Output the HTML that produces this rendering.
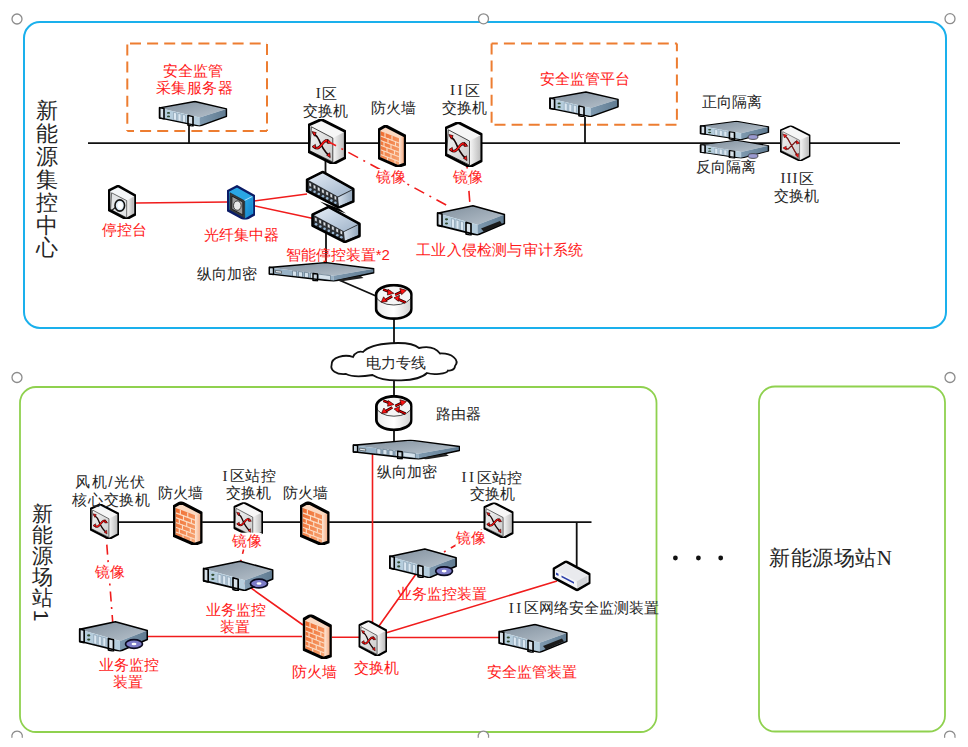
<!DOCTYPE html>
<html><head><meta charset="utf-8">
<style>
html,body{margin:0;padding:0;background:#fff;width:968px;height:747px;overflow:hidden}
svg{display:block}
text{font-family:"Liberation Sans",sans-serif;font-size:15px}
.d{fill:#262626}
.r{fill:#ff1a1a}
.sv{font-family:"Liberation Serif",serif}
</style></head><body>
<svg width="968" height="747" viewBox="0 0 968 747">
<defs>
<linearGradient id="gSwF" x1="0" y1="0" x2="1" y2="1"><stop offset="0" stop-color="#f4f4f4"/><stop offset="1" stop-color="#c9c9c9"/></linearGradient>
<linearGradient id="gSwS" x1="0" y1="0" x2="1" y2="0"><stop offset="0" stop-color="#f8f8f8"/><stop offset="1" stop-color="#b5b5b5"/></linearGradient>
<linearGradient id="gFwF" x1="0" y1="0" x2="1" y2="1"><stop offset="0" stop-color="#ef6a2c"/><stop offset="1" stop-color="#f7a878"/></linearGradient>
<linearGradient id="gFwS" x1="0" y1="0" x2="1" y2="0"><stop offset="0" stop-color="#fde6d6"/><stop offset="1" stop-color="#f39a6a"/></linearGradient>
<linearGradient id="gSrvT" x1="0" y1="0" x2="1" y2="1"><stop offset="0" stop-color="#7f8e9c"/><stop offset="1" stop-color="#b7c2cc"/></linearGradient>
<linearGradient id="gSrvS" x1="0" y1="0" x2="1" y2="0"><stop offset="0" stop-color="#7f9ab0"/><stop offset="1" stop-color="#5f7a90"/></linearGradient>
<linearGradient id="gHubT" x1="0" y1="0" x2="1" y2="1"><stop offset="0" stop-color="#e4ecf6"/><stop offset="1" stop-color="#9fb3c9"/></linearGradient>
<linearGradient id="gHubS" x1="0" y1="0" x2="1" y2="0"><stop offset="0" stop-color="#d5e0ec"/><stop offset="1" stop-color="#94a8bd"/></linearGradient>
<linearGradient id="gRt" x1="0" y1="0" x2="1" y2="0"><stop offset="0" stop-color="#e9e9e9"/><stop offset="0.5" stop-color="#ffffff"/><stop offset="1" stop-color="#d0d0d0"/></linearGradient>
<linearGradient id="gBlue" x1="0" y1="0" x2="1" y2="1"><stop offset="0" stop-color="#2aa9e6"/><stop offset="1" stop-color="#1480c8"/></linearGradient>

<symbol id="sw" viewBox="0 0 38 45" preserveAspectRatio="none">
 <polygon points="0.8,6 13.4,0.4 37.3,12.6 37.3,38.7 25.1,45 0.8,32.8" fill="#f6f6f6"/>
 <polygon points="24.8,19 37.3,12.6 37.3,38.7 25.1,45 24.8,43" fill="url(#gSwS)"/>
 <polygon points="3.4,7.8 24.8,19 24.8,43 1.6,31.6" fill="url(#gSwF)" stroke="#333" stroke-width="0.9"/>
 <g fill="none" stroke-linecap="round" stroke-linejoin="round">
  <path d="M5.5,14.5 C8,16.5 9.5,17 11,21 C13,26 16,32 20.5,36" stroke="#1a0505" stroke-width="1.7"/>
  <path d="M6,28 C8,29.5 9.5,30 11.5,28 C14,25.5 16,22 18,21.5 L21,23" stroke="#2a0000" stroke-width="2.6"/>
  <path d="M6,28 C8,29.5 9.5,30 11.5,28 C14,25.5 16,22 18,21.5 L21,23" stroke="#ff1414" stroke-width="1.5"/>
 </g>
 <g fill="#ff1414" stroke="#2a0000" stroke-width="0.7" stroke-linejoin="round">
  <polygon points="4,12.6 8.2,13.6 6.4,17.2"/>
  <polygon points="22.2,38.6 18.6,36.2 21.8,33.8"/>
  <polygon points="4,27.6 7.4,25.4 7.8,30"/>
  <polygon points="23,24.2 19.6,20 19.4,24.4"/>
 </g>
 <polygon points="0.8,6 13.4,0.4 37.3,12.6 37.3,38.7 25.1,45 0.8,32.8" fill="none" stroke="#000" stroke-width="2.8" stroke-linejoin="round"/>
</symbol>

<symbol id="fw" viewBox="0 0 28 42" preserveAspectRatio="none">
 <polygon points="0.3,4.6 7.6,0.2 27.8,11 27.8,39.3 20.2,42 0.3,33.2" fill="#fbd9c2"/>
 <polygon points="2.6,6.2 21,13.2 21,41 2.6,32.6" fill="url(#gFwF)"/>
 <polygon points="21,13.2 27.6,10.8 27.6,39.2 21,41" fill="url(#gFwS)"/>
 <g stroke="#fbdcc4" stroke-width="1.1" fill="none">
  <path d="M2.6,11 L21,18 M2.6,15.6 L21,22.6 M2.6,20.2 L21,27.2 M2.6,24.8 L21,31.8 M2.6,29.4 L21,36.4"/>
  <path d="M7,8 V12.7 M14,10.7 V15.4 M10,13.1 V17.8 M17.5,16.2 V20.9 M6,17 V21.5 M13,19.7 V24.2 M9,22.5 V27 M16.5,25.3 V29.8 M6,26 V30.6 M13,28.8 V33.4 M9.5,32 V36.5 M17,34.8 V39.4"/>
 </g>
 <polygon points="0.8,4.8 7.6,0.8 27.3,11.2 27.3,39 20.2,41.5 0.8,33" fill="none" stroke="#000" stroke-width="3" stroke-linejoin="round"/>
</symbol>

<symbol id="srv" viewBox="0 0 69 31" preserveAspectRatio="none">
 <polygon points="1,8.8 36.4,1.2 68,10 41,20.3" fill="url(#gSrvT)"/>
 <polygon points="1,8.8 41,20.3 41,30.6 1,20.6" fill="#b5cddd"/>
 <polygon points="41,20.3 68,10 68,18.9 41,30.6" fill="url(#gSrvS)"/>
 <g fill="#dbe8f2" stroke="#7d93a6" stroke-width="0.6">
  <polygon points="15,14 18,14.9 18,23.9 15,23"/>
  <polygon points="19.5,15.3 22.5,16.2 22.5,25.2 19.5,24.3"/>
  <polygon points="24,16.6 27,17.5 27,26.5 24,25.6"/>
 </g>
 <g fill="#2f4a2f"><ellipse cx="10" cy="14.8" rx="1.6" ry="1.1"/><ellipse cx="10" cy="19" rx="1.6" ry="1.1"/></g>
 <path d="M1,8.4 L5.5,9.6 L5.5,22 L1,21 Z M29.5,17.8 L34.5,19.2 L34.5,31 L29.5,29.5 Z" fill="#d8e2ea" stroke="#000" stroke-width="1.6" stroke-linejoin="round"/>
 <polygon points="1,8.8 36.4,1.2 68,10 68,18.9 41,30.6 1,20.6" fill="none" stroke="#000" stroke-width="1.6" stroke-linejoin="round"/>
</symbol>

<symbol id="wsrv" viewBox="0 0 106 19" preserveAspectRatio="none">
 <polygon points="0.5,5.4 57.3,0.6 105.5,6.6 64.8,13.5" fill="url(#gSrvT)"/>
 <polygon points="0.5,5.4 64.8,13.5 65.2,18.8 0.5,11.6" fill="#98b2c6"/>
 <polygon points="64.8,13.5 105.5,6.6 105.5,10.4 65.2,18.8" fill="url(#gSrvS)"/>
 <g fill="#d5e2ec" stroke="#3f5466" stroke-width="0.5">
  <polygon points="24,8.6 28,9.1 28,14.1 24,13.6"/><polygon points="30,9.3 34,9.8 34,14.8 30,14.3"/><polygon points="36,10 40,10.5 40,15.5 36,15"/><polygon points="42,10.7 46,11.2 46,16.2 42,15.7"/>
  <polygon points="50,11.8 62,13.3 62,17.8 50,16.3"/>
 </g>
 <path d="M0.8,5.2 L5,5.7 L5,12.2 L0.8,11.8 Z M44.5,11.2 L49,11.7 L49,18.5 L44.5,18 Z" fill="#c9d6e0" stroke="#000" stroke-width="1.4" stroke-linejoin="round"/>
 <path d="M7,8.2 L13,9 L13,11 L7,10.2Z" fill="#e8eef2" stroke="#222" stroke-width="0.5"/>
 <polygon points="0.5,5.4 57.3,0.6 105.5,6.6 105.5,10.4 65.2,18.8 0.5,11.6" fill="none" stroke="#000" stroke-width="1.4" stroke-linejoin="round"/>
 <path d="M68,17.5 L92,13.5 L95,15.5 L72,19Z" fill="#222"/>
</symbol>

<symbol id="hub" viewBox="0 0 49 38" preserveAspectRatio="none">
 <polygon points="0.5,8.8 17.2,0.5 48.8,18.3 48.8,31.1 33.3,37.7 0.5,20.5" fill="#2a2e33"/>
 <polygon points="2.6,9.4 17.2,2.2 46.6,18.6 32.2,26" fill="url(#gHubT)"/>
 <polygon points="32.4,26.8 46.6,19.6 46.6,30 33.4,35.6" fill="url(#gHubS)"/>
 <g fill="#d9dee4" stroke="#111" stroke-width="0.5">
  <polygon points="3.4,11.6 5.8,12.8 5.8,16.6 3.4,15.4"/><polygon points="7.6,13.8 10.2,15.1 10.2,18.9 7.6,17.6"/><polygon points="11.8,16 14.4,17.3 14.4,21.1 11.8,19.8"/><polygon points="16,18.2 18.6,19.5 18.6,23.3 16,22"/><polygon points="20.2,20.4 22.8,21.7 22.8,25.5 20.2,24.2"/><polygon points="24.4,22.6 27,23.9 27,27.7 24.4,26.4"/><polygon points="28.6,24.8 31,26 31,29.8 28.6,28.6"/>
 </g>
 <g fill="#9ab8d4">
  <circle cx="4.8" cy="19" r="1.3"/><circle cx="9" cy="21.2" r="1.3"/><circle cx="13.2" cy="23.4" r="1.3"/><circle cx="17.4" cy="25.6" r="1.3"/><circle cx="21.6" cy="27.8" r="1.3"/><circle cx="25.8" cy="30" r="1.3"/><circle cx="29.8" cy="32.1" r="1.3"/>
 </g>
 <polygon points="1.2,9.2 17.2,1.3 48,18.6 48,30.8 33.3,37 1.2,20.2" fill="none" stroke="#000" stroke-width="2.6" stroke-linejoin="round"/>
</symbol>

<symbol id="con" viewBox="0 0 28 34" preserveAspectRatio="none">
 <polygon points="1,5.3 10.1,0.9 27.5,10.6 27.5,29.2 18.4,34.2 1,25" fill="#f4f6f8"/>
 <polygon points="18.7,15.6 25.8,11.5 25.8,29.8 18.7,32.7" fill="url(#gSwS)"/>
 <polygon points="3.6,7.8 18.7,15.6 18.7,32.7 2.6,24.5" fill="#e2e4e6" stroke="#333" stroke-width="0.7"/>
 <path d="M3,26 L8,22" stroke="#222" stroke-width="1.2"/>
 <ellipse cx="11.8" cy="20.5" rx="4.8" ry="5.6" fill="#dbe9f6" stroke="#111" stroke-width="1.6"/>
 <ellipse cx="12.2" cy="20.5" rx="2.6" ry="3.4" fill="#ffffff"/>
 <polygon points="1,5.3 10.1,0.9 27.5,10.6 27.5,29.2 18.4,34.2 1,25" fill="none" stroke="#000" stroke-width="2.6" stroke-linejoin="round"/>
</symbol>

<symbol id="fib" viewBox="0 0 28 34" preserveAspectRatio="none">
 <polygon points="0.9,5.9 10,1.2 27.4,10.9 27.4,28.9 18,34.2 0.9,25" fill="#2aa6e4"/>
 <polygon points="17.7,15.6 25.6,11.5 25.6,29.5 17.7,32.7" fill="url(#gBlue)"/>
 <polygon points="3,7.7 17.7,15.6 17.7,32.7 2.8,25" fill="#3a3a3a" stroke="#222" stroke-width="0.6"/>
 <polygon points="5,11 15.8,16.8 15.8,29.5 4.8,23.6" fill="#9a9a9a" stroke="#111" stroke-width="0.8"/>
 <ellipse cx="10.3" cy="20.3" rx="3.8" ry="4.6" fill="#e9e9e9" stroke="#222" stroke-width="0.8"/>
 <path d="M17.5,15.2 L25.4,11.3" stroke="#bde8ff" stroke-width="0.9"/>
 <polygon points="0.9,5.9 10,1.2 27.4,10.9 27.4,28.9 18,34.2 0.9,25" fill="none" stroke="#0b1b66" stroke-width="2.4" stroke-linejoin="round"/>
</symbol>

<symbol id="dev" viewBox="0 0 38 32" preserveAspectRatio="none">
 <polygon points="1.1,8.5 13.4,1 37.4,14.4 37.4,23 24.6,30.5 1.1,17.6" fill="#f0f0f2"/>
 <polygon points="3,10.2 13.6,3.6 35,15.4 24,21.6" fill="#e9eaee"/>
 <polygon points="24,21.6 35,15.4 35,23 24.6,28.5" fill="#d2d4d8"/>
 <polygon points="3,10.2 24,21.6 24.6,28.5 2.6,16.6" fill="#f4f5f8"/>
 <polygon points="3.5,12.5 6,13.8 6,16 3.5,14.8" fill="#2b3ea8"/>
 <polygon points="9,15.5 21.5,22.3 21.5,24 9,17.2" fill="#2b3ea8"/>
 <polygon points="1.1,8.5 13.4,1 37.4,14.4 37.4,23 24.6,30.5 1.1,17.6" fill="none" stroke="#000" stroke-width="2.6" stroke-linejoin="round"/>
</symbol>

<symbol id="rt" viewBox="0 0 38 37" preserveAspectRatio="none">
 <path d="M1.2,11.3 A18,10.2 0 0 1 37.2,11.3 V25.4 A18,10.2 0 0 1 1.2,25.4 Z" fill="url(#gRt)"/>
 <ellipse cx="19.2" cy="11.3" rx="18" ry="10.2" fill="#f5f5f5" stroke="#333" stroke-width="0.9"/>
 <g stroke-linejoin="round">
  <path d="M8.5,5.8 L16,8.6 M31,19 L22,15 M20.5,11.2 L28,7.6 M17.5,12.6 L10,17" stroke="#2a0000" stroke-width="2.8"/>
  <path d="M8.5,5.8 L16,8.6 M31,19 L22,15 M20.5,11.2 L28,7.6 M17.5,12.6 L10,17" stroke="#ee0000" stroke-width="1.2"/>
  <g fill="#ff1010" stroke="#3a0000" stroke-width="0.7">
   <polygon points="19.2,9.6 13.4,5.6 12.8,11.4"/>
   <polygon points="19.4,14.2 25,11.6 23.8,17.8"/>
   <polygon points="31.8,6.6 25.2,4.8 27,11"/>
   <polygon points="6.6,18.6 9,13.2 12.6,18"/>
  </g>
 </g>
 <path d="M1.4,11.3 A17.8,10 0 0 1 37,11.3 V25.4 A17.8,10 0 0 1 1.4,25.4 Z" fill="none" stroke="#000" stroke-width="2.8"/>
</symbol>
<symbol id="sw2" viewBox="0 0 38 45" preserveAspectRatio="none">
 <polygon points="0.8,6 13.4,0.4 37.3,12.6 37.3,38.7 25.1,45 0.8,32.8" fill="#f6f6f6"/>
 <polygon points="24.4,18.8 37.3,12.6 37.3,38.7 25.1,45 24.4,43" fill="url(#gSwS)"/>
 <polygon points="3.4,7.8 24.4,18.8 24.4,43 1.6,31.6" fill="url(#gSwF)" stroke="#444" stroke-width="0.8"/>
 <g fill="none" stroke-linecap="round" stroke-linejoin="round">
  <path d="M6.5,13.5 L9.5,16.5 L19.5,34.5 L21.5,37.5 M6,29 L10,30 L19.5,20.5 L22.5,22" stroke="#5a1010" stroke-width="1.6"/>
  <path d="M6.5,13.5 L9.5,16.5 L19.5,34.5 L21.5,37.5 M6,29 L10,30 L19.5,20.5 L22.5,22" stroke="#a02020" stroke-width="0.8"/>
 </g>
 <g fill="#ff1010" stroke="#3a0000" stroke-width="0.6" stroke-linejoin="round">
  <polygon points="3.8,10.8 8.8,12.3 5.6,15.8"/>
  <polygon points="22.8,40.8 18.9,37 23.2,35.4"/>
  <polygon points="3.6,28.4 7.8,26.2 7.9,31.2"/>
  <polygon points="24.6,22.5 20.6,18.6 20.4,23.6"/>
 </g>
 <polygon points="0.8,6 13.4,0.4 37.3,12.6 37.3,38.7 25.1,45 0.8,32.8" fill="none" stroke="#000" stroke-width="2.2" stroke-linejoin="round"/>
</symbol>
</defs>
<!-- boxes -->
<rect x="24" y="22" width="922" height="306" rx="16" fill="none" stroke="#1ab0ec" stroke-width="2"/>
<rect x="20" y="387" width="636.5" height="345" rx="16" fill="none" stroke="#8fd14f" stroke-width="1.8"/>
<rect x="759" y="386.5" width="186" height="345" rx="16" fill="none" stroke="#8fd14f" stroke-width="1.8"/>
<g fill="none" stroke="#ed7d31" stroke-width="2" stroke-dasharray="11 6.1">
<path d="M127.3 43.6H267" stroke-dashoffset="14.4"/><path d="M127.3 43.6V131" stroke-dashoffset="16.3"/><path d="M267 43.6V131" stroke-dashoffset="16.6"/><path d="M127.3 131H267" stroke-dashoffset="4.3"/>
<path d="M491.6 43.6H676.9" stroke-dashoffset="4.8"/><path d="M491.6 43.6V124.7" stroke-dashoffset="0.2"/><path d="M676.9 43.6V124.7" stroke-dashoffset="3.3"/><path d="M491.6 124.7H676.9" stroke-dashoffset="14.2"/>
</g>

<!-- handles -->
<g fill="none" stroke="#8c8c8c" stroke-width="1.3">
<circle cx="17" cy="19" r="5"/><circle cx="483.5" cy="18.8" r="5" fill="#fff"/><circle cx="950" cy="18.7" r="5"/>
<circle cx="17" cy="377.5" r="5"/><circle cx="950" cy="377.5" r="5"/>
<path d="M12 737.8 A5.3 5.3 0 1 1 22.2 737.8"/><path d="M478.3 737.8 A5.3 5.3 0 1 1 488.5 737.8 Z" fill="#fff" stroke="none"/><path d="M478.3 737.8 A5.3 5.3 0 1 1 488.5 737.8"/><path d="M944.7 737.8 A5.3 5.3 0 1 1 954.9 737.8"/>
</g>
<!-- black lines -->
<g stroke="#111" stroke-width="1.8" fill="none">
<path d="M88 143.2H900"/>
<path d="M189 125V143.2M585 117V143.2"/>
<path d="M325.5 160V175M326 230V265M339 280L376 296M394 315V345M394 378V398M394 429V441"/>
<path d="M104 522.1H591.5M576.7 522.1V566"/>
</g>
<!-- red lines -->
<g stroke="#f01c1c" stroke-width="1.6" fill="none">
<path d="M136 203L227 202M253.5 201L307 194M253.5 205.6L312 218.3"/>
<path d="M372.5 453V625M148 636.5H302M332 637.3H360M386 637.5H500M384 633.5L557 581M379 626L416 574M239.7 580L303 625"/>
</g>
<g stroke="#f01c1c" stroke-width="1.6" fill="none" stroke-dasharray="11 6 2 6">
<path d="M467 166L470 205M482 530L444 552"/>
<path d="M106 534L112.7 622" stroke-dasharray="10 5.5 2 6" stroke-dashoffset="12.8"/>
<path d="M243.6 549.5L240.4 563" stroke-dashoffset="6.5"/>
</g>
<!-- cloud -->
<path d="M331.6,365 C331,357 345,354 353,357 C355,352 360,351 363,352 C372,342 410,340 419,348 C428,346 436,348 440,353.5 C452,353 460,360 455,366 C455,370 450,371 448,370.5 C447,374 433,375 427,373 C418,382 385,383 372.5,375 C360,377 350,376 346,374 C336,375 330,370 331.6,365 Z" fill="#fff" stroke="#111" stroke-width="1.8"/>
<!-- icons upper -->
<use href="#srv" x="158.5" y="100.5" width="69" height="26"/>
<use href="#sw" x="308" y="119" width="38" height="45"/>
<use href="#fw" x="378" y="125" width="28" height="42"/>
<use href="#sw" x="445" y="122" width="37.5" height="45"/>
<use href="#srv" x="549" y="91" width="70" height="26"/>
<use href="#srv" x="699.5" y="120.5" width="70" height="19.5"/>
<use href="#srv" x="699.5" y="139.5" width="70" height="19"/>
<use href="#sw2" x="780" y="125.5" width="30.5" height="35.5"/>
<use href="#con" x="108" y="185" width="28" height="34"/>
<use href="#fib" x="227" y="185" width="28" height="34.5"/>
<use href="#hub" x="305.6" y="170.6" width="49" height="38"/>
<use href="#hub" x="311.2" y="205.6" width="49.5" height="37.5"/>
<polygon points="320,201.5 339,208.5 346,213.5 328.4,207.2" fill="#000"/>
<use href="#srv" x="436.5" y="204.5" width="69" height="31"/>
<use href="#wsrv" x="268.5" y="262" width="106" height="19.5"/>
<use href="#rt" x="374.6" y="283.8" width="38" height="36.5"/>
<!-- icons lower -->
<use href="#rt" x="375" y="395" width="37.5" height="36.5"/>
<use href="#wsrv" x="352.5" y="439.5" width="107.5" height="20"/>
<use href="#sw" x="90" y="504" width="29" height="35"/>
<use href="#sw" x="233.5" y="502.3" width="29.5" height="35.2"/>
<use href="#sw" x="483.5" y="502.5" width="30" height="35.5"/>
<use href="#sw" x="358.5" y="620.5" width="28.5" height="35.5"/>
<use href="#fw" x="173" y="501.5" width="29.5" height="43.5"/>
<use href="#fw" x="300" y="501.5" width="29.5" height="43.5"/>
<use href="#fw" x="302.8" y="614.4" width="29" height="44.5"/>
<use href="#srv" x="388.8" y="547.9" width="68.3" height="30.2"/>
<use href="#srv" x="202.5" y="560" width="71.3" height="31"/>
<use href="#srv" x="78.6" y="620.6" width="69.7" height="31"/>
<use href="#srv" x="498.2" y="623.4" width="69.7" height="29.4"/>
<use href="#dev" x="552.5" y="560.5" width="38" height="31"/>
<path d="M329 142L450 207" stroke="#f01c1c" stroke-width="1.6" fill="none" stroke-dasharray="11 6 2 6" stroke-dashoffset="3"/>
<!-- discs -->
<g fill="#7c7cc8" stroke="#0a0a20" stroke-width="1.7">
<ellipse cx="444.1" cy="571.1" rx="8.4" ry="4.3"/>
<ellipse cx="259" cy="583.5" rx="8.6" ry="4.4"/>
<ellipse cx="134" cy="644" rx="8.5" ry="4.4"/>
</g>
<g fill="#fff"><ellipse cx="444.1" cy="571.1" rx="2.5" ry="1.3"/><ellipse cx="259" cy="583.5" rx="2.5" ry="1.3"/><ellipse cx="134" cy="644" rx="2.5" ry="1.3"/></g>
<!-- trays -->
<path d="M481,228.5 L500,221 L502,224 L484,232 Z" fill="#1a1a1a"/>
<path d="M543,646 L562,638.5 L564,641.5 L546,649.5 Z" fill="#1a1a1a"/>
<!-- bumps -->
<g fill="#9a9ad0" stroke="#333" stroke-width="0.8"><ellipse cx="753" cy="137" rx="5" ry="2.4"/><ellipse cx="753" cy="156" rx="5" ry="2.4"/></g>
<!-- dots -->
<circle cx="675.4" cy="558" r="2.4" fill="#111"/><circle cx="698.4" cy="558" r="2.4" fill="#111"/><circle cx="720.7" cy="558" r="2.4" fill="#111"/>
<g fill="#fff">
<rect x="376" y="169" width="30" height="16"/>
<rect x="452.5" y="168.5" width="30" height="16"/>
<rect x="94.5" y="563.5" width="30" height="16"/>
<rect x="455.5" y="530" width="30" height="16"/>
<rect x="231.7" y="532.7" width="30" height="16"/>
</g>
<g text-anchor="middle" dominant-baseline="central">
<text class="r" x="193" y="70">安全监管</text>
<text class="r" x="194" y="87" textLength="77" lengthAdjust="spacing">采集服务器</text>
<text class="d" x="326.5" y="93.4"><tspan class="sv" letter-spacing="1.5">I</tspan>区</text>
<text class="d" x="325.5" y="110.6">交换机</text>
<text class="d" x="393.6" y="107.0">防火墙</text>
<text class="d" x="465" y="90.3"><tspan class="sv" letter-spacing="2.5">II</tspan>区</text>
<text class="d" x="464" y="107.8">交换机</text>
<text class="r" x="391" y="176.6">镜像</text>
<text class="r" x="467.5" y="176">镜像</text>
<text class="r" x="584.6" y="78.2">安全监管平台</text>
<text class="d" x="732" y="101.0">正向隔离</text>
<text class="d" x="725.8" y="166.8">反向隔离</text>
<text class="d" x="797" y="178.3"><tspan class="sv" letter-spacing="1">III</tspan>区</text>
<text class="d" x="796.5" y="195.3">交换机</text>
<text class="r" x="124" y="229">停控台</text>
<text class="r" x="241.9" y="234.8">光纤集中器</text>
<text class="r" x="337.8" y="254">智能停控装置*2</text>
<text class="d" x="227.2" y="273.6">纵向加密</text>
<text class="r" x="499.7" y="249.6" textLength="167" lengthAdjust="spacing">工业入侵检测与审计系统</text>
<text class="d" x="396.4" y="362.8">电力专线</text>
<text class="d" x="458.3" y="413.4">路由器</text>
<text class="d" x="407.2" y="471.8">纵向加密</text>
<text class="d" x="110.3" y="481.5" textLength="70" lengthAdjust="spacing">风机/光伏</text>
<text class="d" x="111.1" y="499.2" textLength="78" lengthAdjust="spacing">核心交换机</text>
<text class="d" x="180" y="492.9">防火墙</text>
<text class="d" x="249" y="475.9" textLength="53" lengthAdjust="spacing"><tspan class="sv" letter-spacing="1.5">I</tspan>区站控</text>
<text class="d" x="248.2" y="492.9">交换机</text>
<text class="d" x="305.5" y="492.9">防火墙</text>
<text class="d" x="491.5" y="477.0"><tspan class="sv" letter-spacing="2.5">II</tspan>区站控</text>
<text class="d" x="492.4" y="493.5">交换机</text>
<text class="r" x="246.7" y="540.2">镜像</text>
<text class="r" x="470.5" y="537.5">镜像</text>
<text class="r" x="109.5" y="571">镜像</text>
<text class="r" x="442.4" y="593.7">业务监控装置</text>
<text class="d" x="583.7" y="607.8"><tspan class="sv" letter-spacing="2.5">II</tspan>区网络安全监测装置</text>
<text class="r" x="235.8" y="609.7">业务监控</text>
<text class="r" x="235" y="626.8">装置</text>
<text class="r" x="129" y="664">业务监控</text>
<text class="r" x="128.2" y="681">装置</text>
<text class="r" x="314" y="671.7">防火墙</text>
<text class="r" x="376.5" y="667.7">交换机</text>
<text class="r" x="532.2" y="671.4">安全监管装置</text>
<text class="d sv" x="830.5" y="558.4" style="font-size:21px" textLength="123" lengthAdjust="spacing">新能源场站N</text>
</g>
<g class="d sv" text-anchor="middle" dominant-baseline="central" style="font-size:22px"><text x="46.5" y="110.5" style="font-size:22px">新</text><text x="46.5" y="133.4" style="font-size:22px">能</text><text x="46.5" y="156.3" style="font-size:22px">源</text><text x="46.5" y="179.2" style="font-size:22px">集</text><text x="46.5" y="202.1" style="font-size:22px">控</text><text x="46.5" y="225.0" style="font-size:22px">中</text><text x="46.5" y="247.9" style="font-size:22px">心</text><text x="42" y="513.0" style="font-size:21px">新</text><text x="42" y="534.0" style="font-size:21px">能</text><text x="42" y="555.0" style="font-size:21px">源</text><text x="42" y="576.0" style="font-size:21px">场</text><text x="42" y="597.0" style="font-size:21px">站</text><text x="0" y="0" transform="translate(41.3 615.5) rotate(90)" style="font-size:21px">1</text></g>

</svg>
</body></html>
